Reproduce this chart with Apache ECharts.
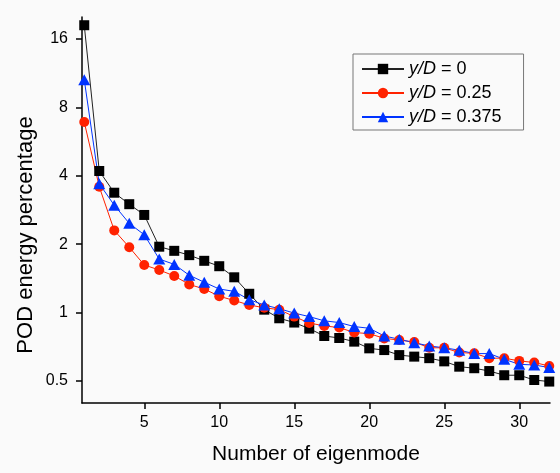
<!DOCTYPE html>
<html>
<head>
<meta charset="utf-8">
<script src="https://cdn.jsdelivr.net/npm/echarts@6/dist/echarts.min.js"></script>
<style>
  html, body { margin: 0; padding: 0; background: #fafafa; }
  #graph { width: 560px; height: 473px; }
</style>
</head>
<body>
<div id="graph"></div>
<script>
// eigenmode number
const modes = [1, 2, 3, 4, 5, 6, 7, 8, 9, 10, 11, 12, 13, 14, 15, 16,
  17, 18, 19, 20, 21, 22, 23, 24, 25, 26, 27, 28, 29, 30, 31, 32]

// POD energy percentage per series
const yd0 = [18.4, 4.2, 3.37, 3.0, 2.69, 1.95, 1.87, 1.79, 1.69, 1.60, 1.43, 1.21, 1.03, 0.944, 0.904, 0.85,
  0.789, 0.773, 0.745, 0.696, 0.684, 0.65, 0.64, 0.63, 0.61, 0.578, 0.569, 0.553, 0.53, 0.53, 0.505, 0.497]
const yd025 = [6.9, 3.58, 2.30, 1.94, 1.62, 1.54, 1.45, 1.33, 1.27, 1.18, 1.13, 1.08, 1.05, 1.03, 0.96, 0.90,
  0.874, 0.859, 0.817, 0.808, 0.77, 0.757, 0.742, 0.70, 0.70, 0.667, 0.662, 0.63, 0.63, 0.613, 0.603, 0.582]
const yd0375 = [10.6, 3.69, 2.97, 2.47, 2.20, 1.72, 1.63, 1.46, 1.36, 1.27, 1.24, 1.14, 1.08, 1.04, 0.995, 0.96,
  0.92, 0.904, 0.868, 0.853, 0.789, 0.763, 0.737, 0.713, 0.70, 0.683, 0.66, 0.66, 0.623, 0.592, 0.588, 0.573]

const seriesNames = ['y/D = 0', 'y/D = 0.25', 'y/D = 0.375']
const xTicks = [5, 30]        // first / last labelled x tick
const yTicks = [0.5, 16]      // first / last labelled y tick

const font = '"Liberation Sans", Arial, sans-serif'

// main plot frame
const G = { left: 82, right: 10, top: 17, bottom: 70 }
const W = 560, H = 473
const xMin = 0.85, xMax = 32.05
const yMin = 0.4, yMax = 20
const pxX = (W - G.left - G.right) / (xMax - xMin)
const pxY = (H - G.top - G.bottom) / Math.log2(yMax / yMin)

const pair = (ys) => modes.map((m, i) => [m, ys[i]])

var myChart = echarts.init(document.getElementById('graph'))
myChart.setOption({
  backgroundColor: '#fafafa',
  animation: false,
  textStyle: { fontFamily: font },
  grid: [
    { left: G.left, right: G.right, top: G.top, bottom: G.bottom },
    // grid used only to place y ticks exactly on powers of 2
    { left: G.left, right: G.right,
      top: G.top + Math.log2(yMax / yTicks[1]) * pxY,
      bottom: G.bottom + Math.log2(yTicks[0] / yMin) * pxY },
    // grid used only to place x ticks on 5..30
    { left: G.left + (xTicks[0] - xMin) * pxX,
      right: G.right + (xMax - xTicks[1]) * pxX,
      top: G.top, bottom: G.bottom }
  ],
  xAxis: [
    {
      type: 'value', gridIndex: 0, min: xMin, max: xMax,
      name: 'Number of eigenmode', nameLocation: 'middle', nameGap: 41,
      nameTextStyle: { fontSize: 21, color: '#000', fontFamily: font },
      axisLine: { show: true, lineStyle: { color: '#000', width: 1.5 } },
      axisTick: { show: false }, axisLabel: { show: false }, splitLine: { show: false }
    },
    { type: 'value', gridIndex: 1, show: false },
    {
      type: 'value', gridIndex: 2, min: xTicks[0], max: xTicks[1], interval: 5,
      axisLine: { show: false },
      axisTick: { show: true, inside: false, length: 6, lineStyle: { color: '#000', width: 1.5 } },
      axisLabel: { fontSize: 16, color: '#000', margin: 12, fontFamily: font },
      splitLine: { show: false }
    }
  ],
  yAxis: [
    {
      type: 'log', logBase: 2, gridIndex: 0, min: yMin, max: yMax,
      axisLine: { show: true, lineStyle: { color: '#000', width: 1.5 } },
      axisTick: { show: false }, axisLabel: { show: false }, splitLine: { show: false }
    },
    {
      type: 'log', logBase: 2, gridIndex: 1, min: yTicks[0], max: yTicks[1],
      axisLine: { show: false },
      axisTick: { show: true, inside: false, length: 6, lineStyle: { color: '#000', width: 1.5 } },
      axisLabel: { fontSize: 16, color: '#000', margin: 14, fontFamily: font },
      splitLine: { show: false }
    },
    { type: 'value', gridIndex: 2, show: false }
  ],
  legend: {
    left: 353, top: 54, orient: 'vertical',
    data: seriesNames,
    itemWidth: 42, itemHeight: 13, itemGap: 4,
    padding: [5, 22, 3, 8],
    borderColor: '#777', borderWidth: 1, backgroundColor: '#fafafa',
    formatter: (name) => name.replace('y/D', '{i|y/D}'),
    textStyle: {
      fontSize: 18, color: '#000', lineHeight: 20, fontFamily: font,
      rich: { i: { fontStyle: 'italic', fontSize: 18, color: '#000', fontFamily: font } }
    }
  },
  graphic: [{
    type: 'text', x: 26, y: 235, rotation: Math.PI / 2,
    style: {
      text: 'POD energy percentage', fontSize: 22, fontFamily: font, fill: '#000',
      textAlign: 'center', textVerticalAlign: 'middle'
    }
  }],
  series: [
    {
      name: seriesNames[0], type: 'line', xAxisIndex: 0, yAxisIndex: 0,
      data: pair(yd0), symbol: 'rect', symbolSize: 10,
      itemStyle: { color: '#000' }, lineStyle: { color: '#222', width: 1 }
    },
    {
      name: seriesNames[1], type: 'line', xAxisIndex: 0, yAxisIndex: 0,
      data: pair(yd025), symbol: 'circle', symbolSize: 10,
      itemStyle: { color: '#ff2200' }, lineStyle: { color: '#ff2200', width: 1 }
    },
    {
      name: seriesNames[2], type: 'line', xAxisIndex: 0, yAxisIndex: 0,
      data: pair(yd0375), symbol: 'triangle', symbolSize: [12, 11],
      itemStyle: { color: '#0033ff' }, lineStyle: { color: '#0033ff', width: 1 }
    }
  ]
})
</script>
</body>
</html>
